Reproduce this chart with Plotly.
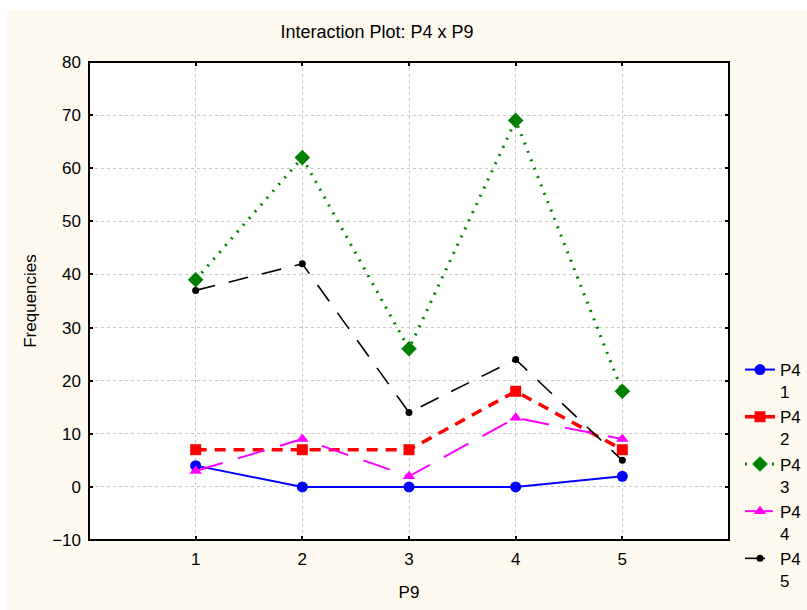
import plotly.graph_objects as go

# Interaction plot data: frequency of each P4 level across the P9 levels
p9_levels = [1, 2, 3, 4, 5]
series_names = ["P4<br>1", "P4<br>2", "P4<br>3", "P4<br>4", "P4<br>5"]
p4_1 = [4, 0, 0, 0, 2]
p4_2 = [7, 7, 7, 18, 7]
p4_3 = [39, 62, 26, 69, 18]
p4_4 = [3, 9, 2, 13, 9]
p4_5 = [37, 42, 14, 24, 5]
y_ticks = [-10, 0, 10, 20, 30, 40, 50, 60, 70, 80]

series_values = [p4_1, p4_2, p4_3, p4_4, p4_5]
styles = [
    dict(color="#0000FF", dash="solid", width=2, symbol="circle", size=11),
    dict(color="#FF0000", dash="11px,8px", width=3.5, symbol="square", size=11),
    dict(color="#008000", dash="2px,7px", width=3, symbol="diamond", size=12),
    dict(color="#FF00FF", dash="28px,16px", width=2, symbol="triangle-up", size=11),
    dict(color="#000000", dash="20px,14px", width=1.6, symbol="circle", size=7),
]

FONT = "Liberation Sans, Arial, sans-serif"
FS = 17
CREAM = "#FEFAEF"

fig = go.Figure()
for i, (name, vals, st) in enumerate(zip(series_names, series_values, styles)):
    fig.add_trace(go.Scatter(
        x=p9_levels, y=vals, name=name, mode="lines+markers",
        legendgroup=f"g{i}",
        line=dict(color=st["color"], dash=st["dash"], width=st["width"]),
        marker=dict(symbol=st["symbol"], size=st["size"], color=st["color"]),
    ))

axis_common = dict(
    ticks="inside", ticklen=4, tickcolor="black", tickwidth=1.5,
    showline=False, mirror="ticks", showgrid=True, gridcolor="#C8C8C8",
    griddash="dot", gridwidth=1, zeroline=False, ticklabelstandoff=7,
    automargin=False, tickfont=dict(size=FS),
)

fig.update_layout(
    width=807, height=610,
    margin=dict(l=89, r=78, t=62, b=70, autoexpand=False),
    paper_bgcolor=CREAM,
    plot_bgcolor="white",
    font=dict(family=FONT, size=FS, color="black"),
    title=dict(text="Interaction Plot: P4 x P9", x=377 / 807, xref="container",
               xanchor="center", y=1 - 32 / 610, yref="container",
               yanchor="middle", font=dict(size=18)),
    showlegend=True,
    legend=dict(xref="container", yref="container",
                x=740 / 807, xanchor="left", y=1 - 352 / 610, yanchor="top",
                bgcolor="rgba(0,0,0,0)", valign="top", tracegroupgap=0,
                itemwidth=30, font=dict(size=FS)),
    xaxis=dict(range=[0, 6], tickvals=p9_levels,
               title=dict(text="P9", standoff=18, font=dict(size=FS)),
               **axis_common),
    yaxis=dict(range=[-10, 80], tickvals=y_ticks,
               title=dict(text="Frequencies", standoff=11, font=dict(size=FS)),
               **axis_common),
    shapes=[
        # plot frame
        dict(type="rect", xref="paper", yref="paper", layer="above",
             x0=0, x1=1, y0=0, y1=1, line=dict(color="black", width=2)),
        # thin white band along the top and left edges of the page
        dict(type="rect", xref="paper", yref="paper", layer="above",
             x0=-89 / 640, x1=(807 - 89) / 640,
             y0=(540 - 10) / 478, y1=(540 + 2) / 478 + 0.2,
             fillcolor="white", line=dict(width=0)),
        dict(type="rect", xref="paper", yref="paper", layer="above",
             x0=-89 / 640 - 0.05, x1=(7 - 89) / 640,
             y0=-70 / 478 - 0.05, y1=(540 + 2) / 478 + 0.2,
             fillcolor="white", line=dict(width=0)),
    ],
)

fig.write_html("out.html")
